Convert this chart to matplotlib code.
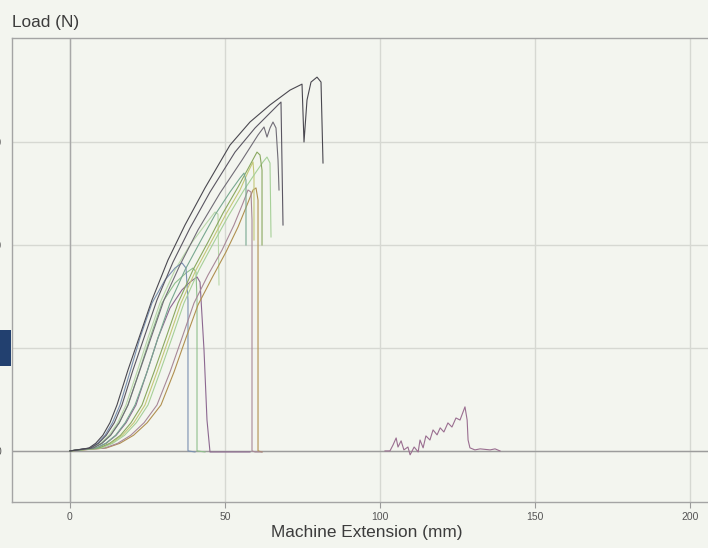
import matplotlib
matplotlib.use("Agg")
import matplotlib.pyplot as plt
from matplotlib.patches import Rectangle

plt.rcParams['font.family'] = ['Liberation Sans', 'DejaVu Sans']

# Load vs. machine extension for each specimen (mm, N)
a_x = [0, 6.1, 8.3, 10.6, 12.9, 15.16, 18.71, 22.58, 26.45, 31.61, 37.10, 43.55, 51.61, 58.06,
       64.52, 70.97, 74.84, 75.48, 76.45, 77.74, 79.68, 80.97, 81.61]
a_y = [0, 14, 37, 76, 137, 223, 393, 563, 733, 927, 1097, 1277, 1485, 1597,
       1680, 1752, 1781, 1500, 1704, 1791, 1815, 1791, 1398]

b_x = [0, 6.7, 9.2, 11.7, 14.3, 16.77, 20.32, 24.19, 28.06, 33.23, 38.71, 45.16, 53.23, 59.68,
       64.52, 67.10, 68.06, 68.71]
b_y = [0, 14, 37, 76, 137, 223, 393, 563, 733, 917, 1082, 1257, 1451, 1568,
       1641, 1680, 1694, 1097]

c_x = [0, 7.5, 10.3, 13.1, 15.9, 18.71, 22.58, 26.45, 30.32, 35.48, 41.29, 48.39, 55.48, 60.65,
       62.58, 63.55, 64.52, 65.48, 66.45, 67.10, 67.42]
c_y = [0, 14, 37, 76, 137, 223, 393, 563, 733, 903, 1073, 1252, 1412, 1534,
       1573, 1524, 1568, 1597, 1568, 1412, 1267]

teal_x = [0, 8.4, 11.5, 14.7, 17.8, 20.97, 24.84, 28.39, 32.26, 37.10, 41.94, 46.77, 51.61,
          54.84, 56.13, 56.77, 56.77]
teal_y = [0, 14, 37, 76, 137, 223, 383, 549, 718, 879, 1014, 1146, 1257,
          1325, 1349, 1315, 1000]

olive_x = [0, 9.3, 12.8, 16.3, 19.7, 23.23, 27.10, 30.97, 34.84, 39.68, 44.52, 49.35, 54.19,
           58.06, 60.32, 61.29, 61.94, 61.94]
olive_y = [0, 14, 37, 76, 137, 223, 383, 549, 718, 879, 1014, 1155, 1281,
           1388, 1451, 1437, 1364, 1000]

lgreen_x = [0, 10.1, 13.8, 17.6, 21.4, 25.16, 29.03, 32.90, 36.77, 41.61, 46.45, 51.29, 56.13,
            60.0, 62.26, 63.55, 64.52, 64.84]
lgreen_y = [0, 14, 37, 76, 137, 223, 383, 549, 718, 879, 1014, 1146, 1267,
            1354, 1403, 1427, 1398, 1039]

ygreen_x = [0, 9.7, 13.3, 16.9, 20.6, 24.19, 28.06, 31.94, 35.81, 40.65, 45.48, 50.32, 54.84,
            57.42, 59.03, 59.35, 59.35]
ygreen_y = [0, 14, 37, 76, 137, 223, 383, 549, 718, 879, 1014, 1150, 1267,
            1354, 1403, 1340, 1024]

mauve_x = [0, 11.2, 15.4, 19.6, 23.9, 28.06, 32.26, 36.13, 40.0, 44.52, 49.03, 52.90, 55.81,
           57.42, 58.39, 58.71, 58.71, 59.68, 61.94]
mauve_y = [0, 14, 37, 76, 137, 223, 383, 549, 718, 854, 975, 1097, 1204,
           1267, 1257, 1121, 0, -5, -5]

brown_x = [0, 11.7, 16.1, 20.5, 24.9, 29.35, 33.55, 37.42, 41.29, 45.81, 50.32, 54.19, 57.10,
           59.03, 60.0, 60.65, 60.65, 61.94]
brown_y = [0, 14, 37, 76, 137, 223, 383, 549, 709, 840, 966, 1087, 1194,
           1267, 1277, 1218, 0, -5]

blue_x = [0, 6.5, 8.9, 11.3, 13.7, 16.13, 19.35, 22.58, 26.45, 30.65, 33.87, 36.13, 37.42,
          38.06, 38.06, 40.32]
blue_y = [0, 14, 37, 76, 137, 223, 383, 549, 718, 830, 888, 913, 888,
          733, 0, -5]

purple_x = [0, 8.5, 11.7, 14.9, 18.1, 21.29, 24.84, 28.39, 32.26, 36.13, 38.71, 40.97, 41.94,
            43.23, 44.19, 45.16, 58.06]
purple_y = [0, 14, 37, 76, 137, 223, 383, 549, 694, 782, 820, 845, 820,
            490, 150, -5, -5]

green_x = [0, 7.5, 10.3, 13.1, 15.9, 18.71, 22.26, 25.81, 29.68, 33.87, 37.42, 39.68, 40.65,
           40.97, 40.97, 43.55]
green_y = [0, 14, 37, 76, 137, 223, 383, 549, 718, 815, 864, 888, 869,
           733, 0, -5]

pale_x = [0, 7.2, 9.9, 12.6, 15.4, 18.06, 21.61, 25.16, 29.03, 33.87, 38.71, 43.55, 46.77,
          47.74, 48.06]
pale_y = [0, 14, 37, 76, 137, 223, 383, 549, 718, 879, 1000, 1097, 1160,
          1150, 806]

late_x = [101.6, 103.2, 104.2, 105.2, 105.8, 106.8, 107.7, 109.0, 109.7, 111.0, 112.3,
          112.9, 113.9, 114.8, 116.1, 117.1, 118.4, 119.4, 120.6, 121.9, 123.2, 124.5,
          125.8, 127.4, 128.1, 128.4, 129.0, 130.6, 132.3, 135.5, 137.1, 138.7]
late_y = [0, 0, 29, 63, 19, 49, 5, 19, -19, 19, -5,
          53, 15, 73, 53, 102, 78, 112, 92, 136, 116, 160,
          150, 214, 150, 53, 15, 5, 10, 5, 10, 0]

x_ticks = [0, 50, 100, 150, 200]
y_ticks = [0, 500, 1000, 1500]

series = [
    (pale_x, pale_y, '#b9d8aa'),
    (green_x, green_y, '#8fbf8c'),
    (purple_x, purple_y, '#8c6890'),
    (blue_x, blue_y, '#7a90b0'),
    (brown_x, brown_y, '#b09050'),
    (mauve_x, mauve_y, '#a88898'),
    (ygreen_x, ygreen_y, '#c4c878'),
    (lgreen_x, lgreen_y, '#a6d098'),
    (olive_x, olive_y, '#8aa860'),
    (teal_x, teal_y, '#78a890'),
    (c_x, c_y, '#706c76'),
    (b_x, b_y, '#5a5662'),
    (a_x, a_y, '#4a4850'),
    (late_x, late_y, '#9a6e90'),
]

W, H = 708, 548
bg = '#f3f5ef'
fig = plt.figure(figsize=(W / 100, H / 100), dpi=100, facecolor=bg)
ax = fig.add_axes([12 / W, 1 - 502 / H, 710 / W, 464 / H], facecolor=bg)

ax.set_xlim(-18.7, 210.3)
ax.set_ylim(-248, 2005)

ax.set_xticks(x_ticks)
ax.set_yticks(y_ticks)
ax.grid(True, color='#d6d8d2', linewidth=1.0)
ax.set_axisbelow(True)
ax.axhline(0, color='#9c9c9c', linewidth=1.0, zorder=1)
ax.axvline(0, color='#a8a8a8', linewidth=1.0, zorder=1)

for xs, ys, col in series:
    ax.plot(xs, ys, color=col, linewidth=0.8, zorder=3)

for side in ['left', 'bottom', 'top', 'right']:
    ax.spines[side].set_color('#a4a4a4')
    ax.spines[side].set_linewidth(1.0)

ax.tick_params(axis='x', direction='out', length=4, width=0.8, color='#9a9a9a',
               labelsize=7.5, labelcolor='#555555', pad=3)
ax.tick_params(axis='y', length=0, labelsize=7.5, labelcolor='#555555', pad=8)

ax.set_xlabel('Machine Extension (mm)', fontsize=12.4, color='#3c3c3c', labelpad=2)
fig.text(12 / W, 1 - 22 / H, 'Load (N)', fontsize=12.4, color='#3c3c3c',
         ha='left', va='center')

fig.patches.append(Rectangle((0, 1 - 366 / H), 11 / W, 36 / H, transform=fig.transFigure,
                             facecolor='#22406f', edgecolor='none', zorder=5))

fig.savefig('out.png', dpi=100, facecolor=bg)
